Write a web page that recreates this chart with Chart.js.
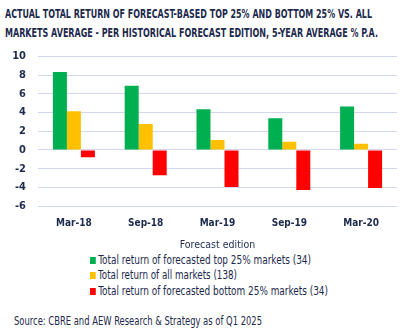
<!DOCTYPE html>
<html>
<head>
<meta charset="utf-8">
<script src="https://cdn.jsdelivr.net/npm/chart.js@4.4.1/dist/chart.umd.min.js"></script>
<style>
  html, body { margin: 0; padding: 0; background: #fff; }
  body { width: 413px; height: 335px; position: relative; overflow: hidden;
         font-family: 'DejaVu Sans Condensed', sans-serif; color: #1d2a4d; }
  .line { position: absolute; white-space: nowrap; transform-origin: 0 50%; }
  .title { font-weight: bold; font-size: 11.5px; }
  .legend-row, .source { font-size: 12px; }
  .legend-row span { display: inline-block; width: 7px; height: 7px; margin-right: 3px; }
  #wrap { position: absolute; left: 0; top: 38px; width: 413px; height: 214px; }
</style>
</head>
<body>
<div class="line title" data-fit="367" style="left:5px; top:7px;">ACTUAL TOTAL RETURN OF FORECAST-BASED TOP 25% AND BOTTOM 25% VS. ALL</div>
<div class="line title" data-fit="373" style="left:5px; top:26px;">MARKETS AVERAGE - PER HISTORICAL FORECAST EDITION, 5-YEAR AVERAGE % P.A.</div>
<div id="wrap"><canvas id="returnsChart"></canvas></div>
<div id="legend"></div>
<div class="line source" data-fit="248" style="left:14px; top:314px;">Source: CBRE and AEW Research &amp; Strategy as of Q1 2025</div>
<script>
const editions = ['Mar-18', 'Sep-18', 'Mar-19', 'Sep-19', 'Mar-20'];
const topQuartile = [8.35, 6.87, 4.35, 3.4, 4.66];
const allMarkets = [4.14, 2.77, 1.08, 0.87, 0.66];
const bottomQuartile = [-0.78, -2.7, -3.97, -4.28, -4.07];
const seriesNames = [
    'Total return of forecasted top 25% markets (34)',
    'Total return of all markets (138)',
    'Total return of forecasted bottom 25% markets (34)'
];
const seriesColors = ['#00b050', '#ffc000', '#ff0000'];
const legendWidths = [221, 147, 238];

const navy = '#1d2a4d';
const fontFamily = "'DejaVu Sans Condensed', sans-serif";

// squeeze a text line horizontally to a given width
function fitLine(el, width) {
    el.style.transform = 'scaleX(' + (width / el.getBoundingClientRect().width) + ')';
}

document.addEventListener('DOMContentLoaded', function () {
    const ctx = document.getElementById('returnsChart').getContext('2d');
    const seriesData = [topQuartile, allMarkets, bottomQuartile];

    new Chart(ctx, {
        type: 'bar',
        data: {
            labels: editions,
            datasets: seriesData.map((values, i) => ({
                label: seriesNames[i],
                data: values,
                backgroundColor: seriesColors[i],
                borderWidth: 0,
                categoryPercentage: 0.585,
                barPercentage: 1
            }))
        },
        options: {
            responsive: true,
            maintainAspectRatio: false,
            animation: false,
            layout: { padding: { left: 0, right: 16, top: 2, bottom: 0 } },
            scales: {
                x: {
                    grid: { display: false },
                    border: { display: false },
                    ticks: { color: navy, font: { family: fontFamily, size: 10, weight: 'bold' }, padding: 3 },
                    title: {
                        display: true,
                        text: 'Forecast edition',
                        color: navy,
                        font: { family: fontFamily, size: 10.5 },
                        padding: { top: 4, bottom: 0 }
                    },
                    afterFit: function (scale) { scale.height = 46; }
                },
                y: {
                    min: -6,
                    max: 10,
                    ticks: { stepSize: 2, autoSkip: false, color: navy, font: { family: fontFamily, size: 11, weight: 'bold' }, padding: 12 },
                    grid: { color: '#d3d7ee', lineWidth: 1, drawTicks: false },
                    border: { display: false },
                    afterFit: function (scale) { scale.width = 38; }
                }
            },
            plugins: {
                legend: { display: false },
                tooltip: { enabled: false }
            }
        }
    });

    // legend as a left-aligned stacked list
    const legend = document.getElementById('legend');
    seriesNames.forEach((name, i) => {
        const row = document.createElement('div');
        row.className = 'line legend-row';
        row.style.left = '90px';
        row.style.top = (253 + i * 15.3) + 'px';
        row.dataset.fit = legendWidths[i];
        const box = document.createElement('span');
        box.style.background = seriesColors[i];
        row.appendChild(box);
        row.appendChild(document.createTextNode(name));
        legend.appendChild(row);
    });

    document.querySelectorAll('[data-fit]').forEach(el => fitLine(el, +el.dataset.fit));
});
</script>
</body>
</html>
